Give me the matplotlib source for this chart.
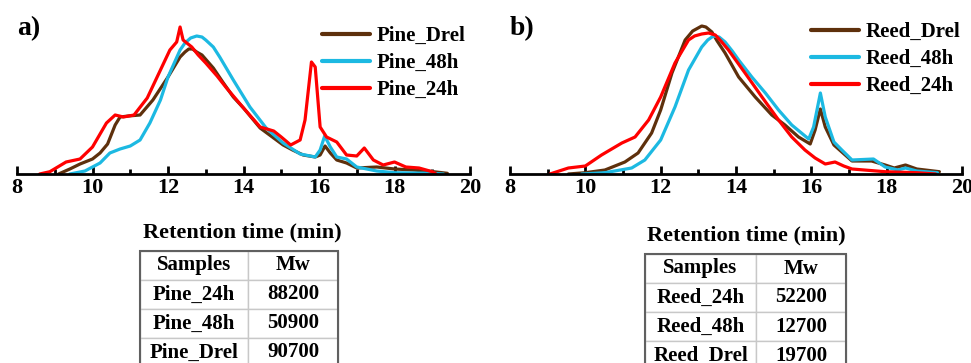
import matplotlib
matplotlib.use("Agg")
import matplotlib.pyplot as plt
from matplotlib.patches import Rectangle

plt.rcParams['font.family'] = ['Liberation Serif', 'DejaVu Serif']
plt.rcParams['font.weight'] = 'bold'

# ---------------- data (retention time in min, signal in arbitrary units) ----------------
pine_drel_t = [9.1, 9.4, 9.67, 10.0, 10.2, 10.4, 10.6, 10.73, 10.95, 11.26, 11.6, 12.0, 12.32, 12.45, 12.55, 12.65,
               12.76, 12.9, 13.2, 13.45, 13.73, 14.0, 14.44, 15.05, 15.3, 15.58, 15.9, 16.03, 16.16, 16.3, 16.47,
               16.73, 17.0, 17.53, 18.0, 18.5, 19.03, 19.4]
pine_drel_y = [0, 5, 10, 15, 21, 30, 49, 57, 58, 59, 74, 97, 117, 122, 125, 125,
               122, 119, 106, 92, 77, 66, 46, 29, 24, 19, 17, 19, 28, 21, 14,
               11, 6, 7, 5, 4, 2.3, 0.7]

pine_48h_t = [9.4, 9.8, 10.2, 10.46, 10.73, 11.0, 11.26, 11.52, 11.8, 12.0, 12.32, 12.45, 12.6, 12.76, 12.9, 13.0,
              13.2, 13.37, 13.73, 14.17, 14.6, 15.05, 15.5, 15.9, 16.03, 16.15, 16.3, 16.47, 16.73, 17.0, 17.53,
              18.0, 19.0, 19.3]
pine_48h_y = [0, 3, 11, 21, 25, 28, 34, 51, 74, 97, 124, 131, 136, 138, 137, 134,
              127, 117, 94, 67, 46, 31, 20, 17, 24, 38, 27, 17, 15, 7, 3,
              1.3, 0.7, 0]

pine_24h_t = [8.6, 8.87, 9.3, 9.67, 10.0, 10.37, 10.6, 10.82, 11.1, 11.45, 11.8, 12.05, 12.23, 12.32, 12.4,
              12.63, 12.8, 13.0, 13.3, 13.55, 14.0, 14.44, 14.8, 15.0, 15.25, 15.5, 15.63, 15.8, 15.9, 16.03,
              16.2, 16.47, 16.73, 17.0, 17.2, 17.44, 17.7, 18.0, 18.3, 18.65, 19.0, 19.1]
pine_24h_y = [0, 2.3, 12, 15, 27, 51, 59, 57, 59, 76, 104, 124, 132, 147, 134,
              127, 119, 111, 98, 86, 66, 47, 43, 37, 29, 34, 54, 112, 107, 47,
              37, 32, 19, 18, 26, 14, 9, 12, 7, 6, 2.3, 0]

reed_drel_t = [9.55, 10.0, 10.52, 11.05, 11.4, 11.76, 12.0, 12.3, 12.65, 12.85, 13.09, 13.2, 13.36, 13.5, 13.71,
               14.07, 14.51, 14.95, 15.3, 15.66, 15.97, 16.1, 16.24, 16.37, 16.6, 16.81, 17.08, 17.6, 17.96, 18.2,
               18.5, 18.8, 19.4]
reed_drel_y = [0, 1.3, 4, 12, 21, 41, 64, 101, 134, 143, 148, 147, 142, 133, 121,
               97, 77, 59, 49, 37, 30, 44, 65, 47, 29, 22, 13, 13, 9, 6,
               9, 5, 2.3]

reed_48h_t = [9.9, 10.52, 11.23, 11.58, 12.0, 12.38, 12.74, 13.09, 13.25, 13.4, 13.55, 13.71, 13.9, 14.07, 14.42,
              14.78, 15.13, 15.48, 15.93, 16.06, 16.24, 16.37, 16.6, 16.81, 17.08, 17.65, 17.96, 18.3, 18.5, 18.8,
              19.35]
reed_48h_y = [0, 1.3, 6, 14, 34, 67, 104, 127, 134, 138, 137, 132, 123, 114, 97,
              81, 64, 49, 35, 47, 81, 57, 32, 24, 14, 15, 7, 4, 6, 3,
              1.3]

reed_24h_t = [9.06, 9.55, 10.0, 10.43, 10.97, 11.32, 11.68, 12.0, 12.38, 12.74, 12.9, 13.09, 13.27, 13.45, 13.6,
              13.8, 14.24, 14.69, 15.13, 15.48, 15.83, 16.1, 16.37, 16.63, 16.86, 17.08, 17.96, 18.8, 19.3]
reed_24h_y = [0, 6, 8, 19, 31, 37, 54, 77, 111, 134, 138, 140, 141, 139, 133,
              124, 101, 77, 54, 37, 24, 16, 10, 12, 8, 5, 2.3, 1.3, 0]

pine_samples = ["Pine_24h", "Pine_48h", "Pine_Drel"]
pine_mw = ["88200", "50900", "90700"]
reed_samples = ["Reed_24h", "Reed_48h", "Reed_Drel"]
reed_mw = ["52200", "12700", "19700"]

xticks = [8, 10, 12, 14, 16, 18, 20]

BROWN = '#5E300C'
CYAN = '#1CB9E2'
RED = '#FF0000'

W, H = 971, 363
fig = plt.figure(figsize=(W / 100, H / 100), dpi=100)


def fx(px):
    return px / W


def fy(py):
    return 1 - py / H


def make_panel(x0, x1, series, label, label_xy, leg_anchor):
    ax = fig.add_axes([fx(x0), fy(174), fx(x1 - x0), 160 / H])
    for t, y, c, name in series:
        ax.plot(t, y, color=c, lw=2.3, label=name, solid_joinstyle='round', solid_capstyle='round')
    ax.set_xlim(8, 20)
    ax.set_ylim(0, 160)
    for s in ['top', 'right', 'left']:
        ax.spines[s].set_visible(False)
    ax.spines['bottom'].set_linewidth(2)
    ax.set_yticks([])
    ax.set_xticks(xticks)
    ax.set_xticks([9, 11, 13, 15, 17, 19], minor=True)
    ax.tick_params(axis='x', which='major', direction='in', length=6, width=2, labelsize=16, pad=3)
    ax.tick_params(axis='x', which='minor', direction='in', length=3.5, width=2)
    for lab in ax.get_xticklabels():
        lab.set_fontweight('bold')
    ax.patch.set_alpha(0)
    leg = ax.legend(loc='upper left', bbox_to_anchor=leg_anchor, bbox_transform=fig.transFigure,
                    frameon=False, fontsize=15, handlelength=2.3, handletextpad=0.3,
                    labelspacing=0.34, borderpad=0, borderaxespad=0)
    for txt in leg.get_texts():
        txt.set_fontweight('bold')
    for ln in leg.get_lines():
        ln.set_linewidth(3)
    fig.text(fx(label_xy[0]), fy(label_xy[1]), label, fontsize=20, fontweight='bold',
             ha='left', va='center')
    return ax


make_panel(17, 470,
           [(pine_drel_t, pine_drel_y, BROWN, 'Pine_Drel'),
            (pine_48h_t, pine_48h_y, CYAN, 'Pine_48h'),
            (pine_24h_t, pine_24h_y, RED, 'Pine_24h')],
           'a)', (17, 29), (fx(322), fy(26)))
make_panel(510, 962,
           [(reed_drel_t, reed_drel_y, BROWN, 'Reed_Drel'),
            (reed_48h_t, reed_48h_y, CYAN, 'Reed_48h'),
            (reed_24h_t, reed_24h_y, RED, 'Reed_24h')],
           'b)', (510, 29), (fx(811), fy(22)))

fig.text(fx(242), fy(232), 'Retention time (min)', fontsize=16, fontweight='bold', ha='center', va='center')
fig.text(fx(746), fy(235), 'Retention time (min)', fontsize=16, fontweight='bold', ha='center', va='center')


def make_table(left, mid, right, top, rowh, samples, mw):
    nrows = len(samples) + 1
    bottom = top + nrows * rowh
    tax = fig.add_axes([fx(left), fy(bottom), fx(right - left), nrows * rowh / H])
    tax.axis('off')
    cells = [["Samples", "Mw"]] + [[s, m] for s, m in zip(samples, mw)]
    tb = tax.table(cellText=cells, cellLoc='center', bbox=[0, 0, 1, 1],
                   colWidths=[(mid - left) / (right - left), (right - mid) / (right - left)])
    tb.auto_set_font_size(False)
    for (r, c), cell in tb.get_celld().items():
        cell.set_edgecolor('#C8C8C8')
        cell.set_linewidth(1)
        cell.get_text().set_fontsize(15)
        cell.get_text().set_fontweight('bold')
    tax.add_patch(Rectangle((0, 0), 1, 1, transform=tax.transAxes, fill=False,
                            edgecolor='#606060', lw=1.5, clip_on=False, zorder=5))


make_table(140, 248, 338, 251, 29, pine_samples, pine_mw)
make_table(645, 756, 846, 254, 29, reed_samples, reed_mw)

fig.savefig('out.png', dpi=100)
